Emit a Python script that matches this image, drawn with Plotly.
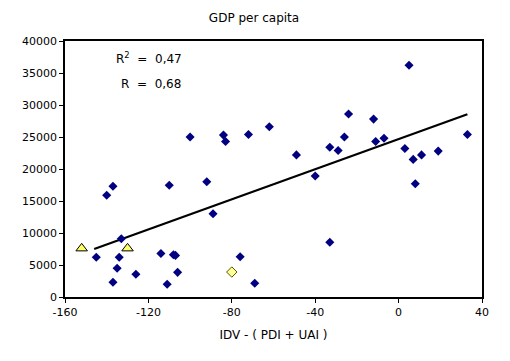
import plotly.graph_objects as go

# Blue diamonds (countries)
idv_x = [-100, -84, -83, -72, -62, 5, -24, -12, -26, -11, -7, -33, -29, -49,
         3, 7, 11, 19, 33, -40, -140, -137, -110, -92, -89, -133, -145, -134,
         -135, -137, -126, -114, -108, -107, -106, -111, -76, -69, -33, 8]
gdp_y = [25000, 25300, 24300, 25400, 26600, 36200, 28600, 27800, 25000, 24300,
         24800, 23400, 22900, 22200, 23200, 21500, 22200, 22800, 25400, 18900,
         15900, 17300, 17450, 18000, 13000, 9100, 6200, 6200, 4500, 2300, 3550,
         6800, 6600, 6500, 3850, 2000, 6300, 2150, 8550, 17700]

# Highlighted points
tri_x = [-152, -130]
tri_y = [7600, 7600]
dia_x = [-80]
dia_y = [3900]

# Trend line as drawn (Excel linear trendline)
trend_x = [-146, 33]
trend_y = [7500, 28550]

x_ticks = [-160, -120, -80, -40, 0, 40]
y_ticks = [0, 5000, 10000, 15000, 20000, 25000, 30000, 35000, 40000]

title_text = "GDP per capita"
x_title = "IDV - ( PDI + UAI )"
r2_text = "R<sup>2</sup>  =  0,47"
r_text = "R  =  0,68"

# page body has an 8px margin, so the figure is offset by 8px in the window
OFF = 8
W, H = 510 - OFF, 361 - OFF
ML, MT = 65 - OFF, 41 - OFF
PW, PH = 417, 256
MR, MB = W - ML - PW, H - MT - PH
FONT = "DejaVu Sans, Verdana, sans-serif"
FS = 12

fig = go.Figure()
fig.add_trace(go.Scatter(x=trend_x, y=trend_y, mode="lines",
                         line=dict(color="black", width=2.2), hoverinfo="skip"))
fig.add_trace(go.Scatter(x=idv_x, y=gdp_y, mode="markers",
                         marker=dict(symbol="diamond", size=7, color="#000080",
                                     line=dict(width=0))))
fig.add_trace(go.Scatter(x=tri_x, y=tri_y, mode="markers",
                         marker=dict(symbol="triangle-up", size=10, color="#ffff66",
                                     line=dict(color="black", width=1))))
fig.add_trace(go.Scatter(x=dia_x, y=dia_y, mode="markers",
                         marker=dict(symbol="diamond", size=8, color="#ffff99",
                                     line=dict(color="#555500", width=1))))

axis_common = dict(showgrid=False, zeroline=False, showline=True, linecolor="black",
                   linewidth=1.5, mirror=True, ticks="outside", ticklen=4,
                   tickcolor="black", tickwidth=1, automargin=False,
                   tickfont=dict(family=FONT, size=FS - 1, color="black"))

fig.update_xaxes(range=[-160, 40], tickvals=x_ticks,
                 ticktext=[str(v) for v in x_ticks],
                 title=dict(text=x_title, font=dict(family=FONT, size=FS, color="black"),
                            standoff=13),
                 **axis_common)
fig.update_yaxes(range=[0, 40000], tickvals=y_ticks,
                 ticktext=[str(v) for v in y_ticks], **axis_common)

ann_font = dict(family=FONT, size=FS, color="black")


def px_to_paper(px, py):
    # px, py are window pixel positions
    return (px - OFF - ML) / PW, 1 - (py - OFF - MT) / PH


ax, ay = px_to_paper(114, 58)
fig.add_annotation(text=r2_text, x=ax, y=ay, xref="paper", yref="paper",
                   showarrow=False, font=ann_font, xanchor="left", yanchor="middle")
ax, ay = px_to_paper(119, 84)
fig.add_annotation(text=r_text, x=ax, y=ay, xref="paper", yref="paper",
                   showarrow=False, font=ann_font, xanchor="left", yanchor="middle")

# right-edge border of the chart area
bx, _ = px_to_paper(507, 0)
fig.add_shape(type="line", xref="paper", yref="paper", x0=bx, x1=bx,
              y0=1 + MT / PH, y1=-MB / PH, layer="above",
              line=dict(color="black", width=2))

fig.update_layout(
    width=W, height=H, showlegend=False,
    margin=dict(l=ML, r=MR, t=MT, b=MB, pad=0, autoexpand=False),
    paper_bgcolor="white", plot_bgcolor="white",
    title=dict(text=title_text, x=(254 - OFF) / W, xanchor="center", xref="container",
               y=1 - (18 - OFF) / H, yanchor="middle",
               font=dict(family=FONT, size=FS, color="black")),
)

fig.write_html("out.html")
